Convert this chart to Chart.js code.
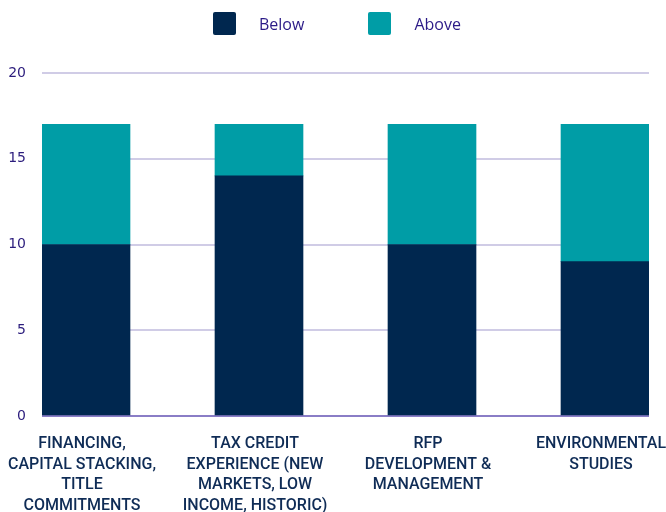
<!DOCTYPE html>
<html>
<head>
<meta charset="utf-8">
<script src="https://cdn.jsdelivr.net/npm/chart.js@4"></script>
<style>
  html, body { margin: 0; padding: 0; background: #ffffff; }
  .wrap { position: relative; width: 666px; height: 512px; }
  #legend {
    position: absolute; top: 12px; left: 213px;
    display: flex; align-items: center;
    font-family: 'Open Sans', sans-serif; font-size: 16px; color: #2b1a87;
  }
  #legend .item { display: flex; align-items: center; margin-right: 64px; }
  #legend .box { width: 23px; height: 23px; border-radius: 2px; margin-right: 23px; }
</style>
</head>
<body>
<div class="wrap">
  <canvas id="skillsChart" width="666" height="512"></canvas>
  <div id="legend"></div>
</div>
<script>
const categories = [
    ['FINANCING,', 'CAPITAL STACKING,', 'TITLE', 'COMMITMENTS'],
    ['TAX CREDIT', 'EXPERIENCE (NEW', 'MARKETS, LOW', 'INCOME, HISTORIC)'],
    ['RFP', 'DEVELOPMENT &', 'MANAGEMENT'],
    ['ENVIRONMENTAL', 'STUDIES']
];
const below = [10, 14, 10, 9];
const above = [7, 3, 7, 8];
const yTicks = [0, 5, 10, 15, 20];

const toPoints = (arr) => arr.map((v, i) => ({ x: i, y: v }));

const ctx = document.getElementById('skillsChart').getContext('2d');

const chart = new Chart(ctx, {
    type: 'bar',
    data: {
        datasets: [
            { label: 'Below', data: toPoints(below), backgroundColor: '#00274f' },
            { label: 'Above', data: toPoints(above), backgroundColor: '#009da6' }
        ]
    },
    options: {
        responsive: false,
        animation: false,
        layout: { padding: { top: 73, right: 17, left: 0, bottom: 0 } },
        datasets: { bar: { barThickness: 88 } },
        plugins: {
            legend: { display: false },
            tooltip: { enabled: false }
        },
        scales: {
            x: {
                type: 'linear',
                stacked: true,
                offset: false,
                min: -0.2543,
                max: 3.2543,
                grid: { display: false, drawTicks: false },
                border: { display: false },
                afterBuildTicks: (s) => { s.ticks = categories.map((c, i) => ({ value: i })); },
                afterFit: (s) => { s.height = 96; s.paddingLeft = 0; s.paddingRight = 0; },
                ticks: {
                    autoSkip: false,
                    maxRotation: 0,
                    minRotation: 0,
                    padding: 18,
                    labelOffset: -4,
                    color: '#0f2c56',
                    font: { family: 'Roboto', size: 16, weight: '500', lineHeight: 1.28 },
                    callback: (v) => categories[v]
                }
            },
            y: {
                stacked: true,
                min: 0,
                max: 20,
                afterBuildTicks: (s) => { s.ticks = yTicks.map(v => ({ value: v })); },
                afterFit: (s) => { s.width = 42; },
                grid: {
                    drawTicks: false,
                    lineWidth: 2,
                    color: (c) => c.tick && c.tick.value === 0 ? '#8a7dc6' : '#d0cce6'
                },
                border: { display: false },
                ticks: {
                    padding: 16,
                    color: '#2c1d7d',
                    font: { family: 'DejaVu Sans', size: 14 }
                }
            }
        }
    }
});

// legend built from the datasets
const legendEl = document.getElementById('legend');
chart.data.datasets.forEach((ds) => {
    const item = document.createElement('div');
    item.className = 'item';
    const box = document.createElement('span');
    box.className = 'box';
    box.style.background = ds.backgroundColor;
    const text = document.createElement('span');
    text.textContent = ds.label;
    item.appendChild(box);
    item.appendChild(text);
    legendEl.appendChild(item);
});
</script>
</body>
</html>
